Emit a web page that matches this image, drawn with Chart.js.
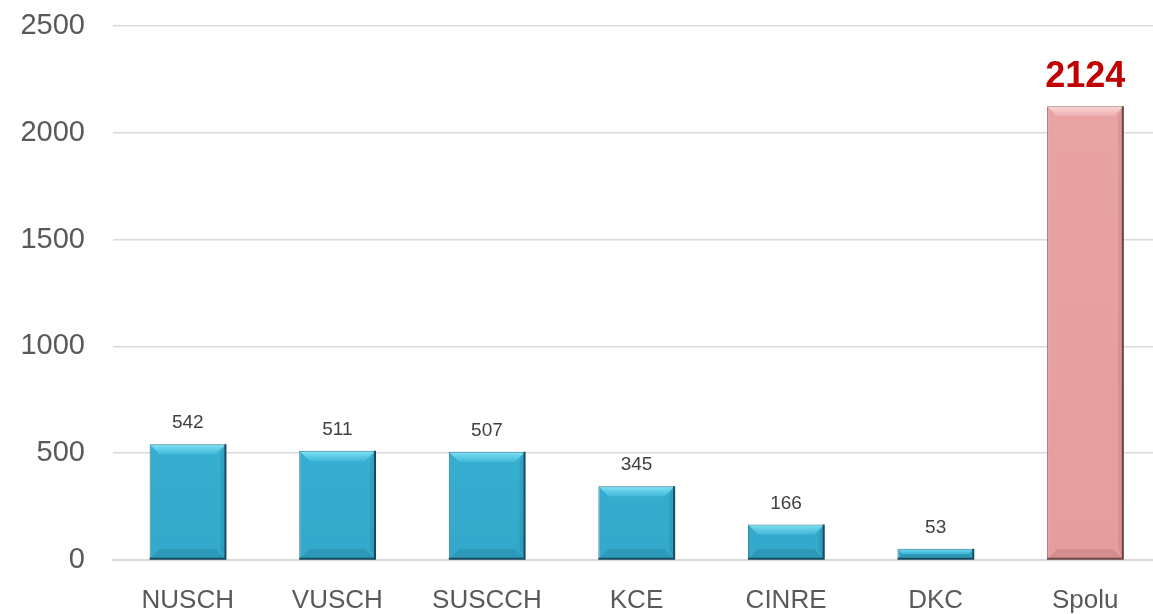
<!DOCTYPE html>
<html>
<head>
<meta charset="utf-8">
<script src="https://cdn.jsdelivr.net/npm/chart.js@4"></script>
<style>
  html, body { margin: 0; padding: 0; background: #fff; overflow: hidden; }
  #wrap { width: 1160px; height: 614px; }
</style>
</head>
<body>
<div id="wrap"><canvas id="graf"></canvas></div>
<script>
const kategorie = ["NUSCH", "VUSCH", "SUSCCH", "KCE", "CINRE", "DKC", "Spolu"];
const hodnoty = [542, 511, 507, 345, 166, 53, 2124];
const yTicky = [0, 500, 1000, 1500, 2000, 2500];

const FONT = "'Liberation Sans', Arial, sans-serif";

function farbaBaru(ctx) {
    const chart = ctx.chart;
    const area = chart.chartArea;
    if (!area) return "#3bbadb";
    const bar = chart.getDatasetMeta(0).data[ctx.dataIndex];
    const top = bar && isFinite(bar.y) ? bar.y : area.top;
    const bottom = bar && isFinite(bar.base) ? bar.base : area.bottom;
    const g = chart.ctx.createLinearGradient(0, top, 0, bottom);
    if (ctx.dataIndex === hodnoty.length - 1) {
        g.addColorStop(0, "#e9a4a4");
        g.addColorStop(1, "#e69d9d");
    } else {
        g.addColorStop(0, "#44c2e1");
        g.addColorStop(0.5, "#3bb8d9");
        g.addColorStop(1, "#33a8ca");
    }
    return g;
}

// skosenie hornej hrany a popisky hodnot
const bevelPlugin = {
    id: "bevel",
    afterDatasetsDraw(chart) {
        const c = chart.ctx;
        const meta = chart.getDatasetMeta(0);
        meta.data.forEach((bar, i) => {
            const w = bar.width;
            const left = bar.x - w / 2, right = bar.x + w / 2;
            const top = bar.y, bottom = bar.base;
            const h = bottom - top;
            const b = Math.min(9, h / 2 - 1);
            const spolu = i === hodnoty.length - 1;
            c.save();
            // horny svetly pas
            c.beginPath();
            c.moveTo(left + 1, top + 1);
            c.lineTo(right - 1, top + 1);
            c.lineTo(right - 1 - b, top + 1 + b);
            c.lineTo(left + 1 + b, top + 1 + b);
            c.closePath();
            const hg = c.createLinearGradient(0, top, 0, top + b);
            hg.addColorStop(0, spolu ? "rgba(255,235,235,0.75)" : "rgba(150,238,252,0.85)");
            hg.addColorStop(1, spolu ? "rgba(255,225,225,0.25)" : "rgba(110,220,245,0.35)");
            c.fillStyle = hg;
            c.fill();
            // pravy tien
            c.beginPath();
            c.moveTo(right - 1, top + 1);
            c.lineTo(right - 1, bottom - 1);
            c.lineTo(right - 1 - b / 2, bottom - 1 - b);
            c.lineTo(right - 1 - b / 2, top + 1 + b);
            c.closePath();
            c.fillStyle = spolu ? "rgba(120,60,60,0.12)" : "rgba(10,70,90,0.12)";
            c.fill();
            // spodny tien
            c.beginPath();
            c.moveTo(left + 1, bottom - 1);
            c.lineTo(right - 1, bottom - 1);
            c.lineTo(right - 1 - b, bottom - 1 - b);
            c.lineTo(left + 1 + b, bottom - 1 - b);
            c.closePath();
            c.fillStyle = spolu ? "rgba(120,60,60,0.15)" : "rgba(10,70,90,0.15)";
            c.fill();
            // tmavy obrys vpravo a dole
            c.beginPath();
            c.moveTo(right - 0.5, top);
            c.lineTo(right - 0.5, bottom - 0.5);
            c.lineTo(left, bottom - 0.5);
            c.strokeStyle = spolu ? "#6b4545" : "#174a5c";
            c.lineWidth = 2;
            c.stroke();
            c.restore();

            // popisok
            c.save();
            c.textAlign = "center";
            c.textBaseline = "alphabetic";
            if (spolu) {
                c.font = "bold 36px " + FONT;
                c.fillStyle = "#c00000";
                c.fillText(hodnoty[i], bar.x, top - 19);
            } else {
                c.font = "19px " + FONT;
                c.fillStyle = "#404040";
                c.fillText(hodnoty[i], bar.x, top - 16);
            }
            c.restore();
        });
    },
};

document.addEventListener("DOMContentLoaded", () => {
    const ctx = document.getElementById("graf");
    new Chart(ctx, {
        type: "bar",
        data: {
            labels: kategorie,
            datasets: [
                {
                    data: hodnoty,
                    backgroundColor: farbaBaru,
                    borderColor: (c) => c.dataIndex === hodnoty.length - 1 ? "#a07070" : "#2a7890",
                    borderWidth: 1,
                    barPercentage: 1,
                    categoryPercentage: 0.51,
                },
            ],
        },
        options: {
            responsive: true,
            maintainAspectRatio: false,
            animation: false,
            layout: { padding: { top: 26, right: 0, left: 0, bottom: 0 } },
            plugins: {
                legend: { display: false },
                tooltip: { enabled: false },
            },
            scales: {
                x: {
                    grid: { display: false, drawTicks: false },
                    border: { display: true, color: "#d9d9d9", width: 2 },
                    ticks: {
                        color: "#595959",
                        font: { family: FONT, size: 26 },
                        padding: 25,
                        maxRotation: 0,
                    },
                    afterFit: (s) => { s.height = 54; },
                },
                y: {
                    min: 0,
                    max: 2500,
                    afterBuildTicks: (s) => { s.ticks = yTicky.map((v) => ({ value: v })); },
                    grid: { color: "#d9d9d9", lineWidth: 1.5, drawTicks: false },
                    border: { display: false },
                    ticks: {
                        color: "#595959",
                        font: { family: FONT, size: 29 },
                        padding: 28,
                        callback: (v) => String(v),
                    },
                    afterFit: (s) => {
                        s.width = 113;
                        s.paddingTop = 0;
                        s.paddingBottom = 0;
                    },
                },
            },
        },
        plugins: [bevelPlugin],
    });
});
</script>
</body>
</html>
